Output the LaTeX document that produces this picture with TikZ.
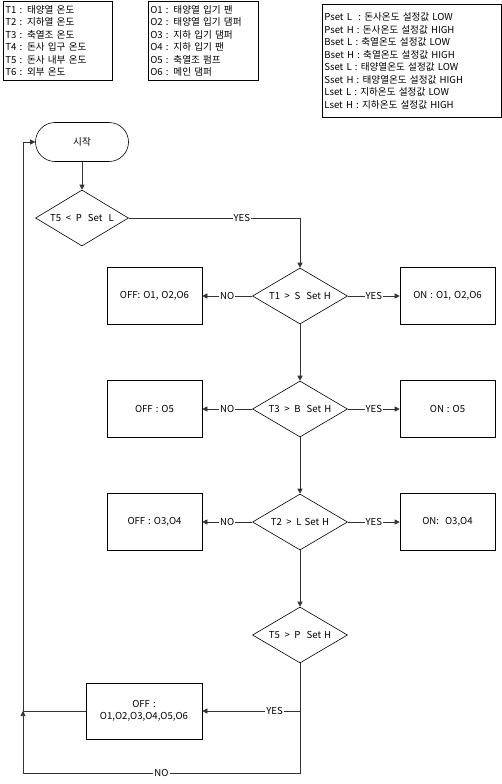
\documentclass[tikz,border=0pt]{standalone}
\usepackage{fontspec}
\setmainfont[WordSpace=1.4]{Noto Sans CJK KR}
\usetikzlibrary{shapes.geometric,arrows.meta}

\begin{document}
\begin{tikzpicture}
[x=1pt,y=-1pt,%
  every node/.style={font=\fontsize{9.6}{12.5}\selectfont},%
  line/.style={draw=black!80,semithick},%
  arr/.style={line,-{Triangle[length=5pt,width=5pt]}},%
  legend/.style={draw,semithick,anchor=north west,align=left,inner xsep=2pt,inner ysep=0pt},%
  terminal/.style={draw,semithick,rectangle,rounded corners=19.5pt,minimum width=93pt,minimum height=39pt},%
  decision/.style={draw,semithick,diamond,aspect=1.7,inner sep=0pt,minimum width=95pt,minimum height=56pt},%
  action/.style={draw,semithick,rectangle,minimum width=95pt,minimum height=57pt,align=center},%
  lbl/.style={fill=white,inner sep=1pt}]
\useasboundingbox (0,0) rectangle (502,784);

% legends
\node[legend,text width=105pt,minimum height=79pt] (tlist) at (3,1)
  {T1 : 태양열 온도\\T2 : 지하열 온도\\T3 : 축열조 온도\\T4 : 돈사 입구 온도\\T5 : 돈사 내부 온도\\T6 : 외부 온도};
\node[legend,text width=106pt,minimum height=79pt] (olist) at (148,1)
  {O1 : 태양열 입기 팬\\O2 : 태양열 입기 댐퍼\\O3 : 지하 입기 댐퍼\\O4 : 지하 입기 팬\\O5 : 축열조 펌프\\O6 : 메인 댐퍼};
\node[legend,text width=175pt,minimum height=113pt] (slist) at (322,4)
  {Pset L \ : 돈사온도 설정값 LOW\\Pset H : 돈사온도 설정값 HIGH\\Bset L : 축열온도 설정값 LOW\\Bset H : 축열온도 설정값 HIGH\\Sset L : 태양열온도 설정값 LOW\\Sset H : 태양열온도 설정값 HIGH\\Lset L : 지하온도 설정값 LOW\\Lset H : 지하온도 설정값 HIGH};

% flow
\node[terminal] (start) at (82,142) {시작};
\node[decision,minimum width=93pt] (d1) at (82,218) {T5 \,<\, P \ Set \ L};
\node[decision] (d2) at (300,296) {T1 \,>\, S \ Set H};
\node[decision] (d3) at (300,409) {T3 \,>\, B \ Set H};
\node[decision] (d4) at (300,522) {T2 \,>\, L Set H};
\node[decision] (d5) at (300,635) {T5 \,>\, P \ Set H};

\node[action] (off1) at (154.5,296) {OFF: O1, O2,O6};
\node[action] (on1) at (447.5,296) {ON : O1, O2,O6};
\node[action] (off2) at (154.5,409) {OFF : O5};
\node[action] (on2) at (447.5,409) {ON : O5};
\node[action] (off3) at (154.5,522) {OFF : O3,O4};
\node[action] (on3) at (447.5,522) {ON: \ O3,O4};
\node[action,minimum width=116pt,minimum height=56pt] (offall) at (144,711) {OFF :\\O1,O2,O3,O4,O5,O6};

\coordinate (bot) at (23,773);
\coordinate (loop) at (23,711);

\draw[arr] (start) -- (d1);
\draw[arr] (d1.east) -| node[lbl,pos=0.33] {YES} (d2.north);
\draw[arr] (d2) -- node[lbl] {NO} (off1);
\draw[arr] (d2) -- node[lbl] {YES} (on1);
\draw[arr] (d2) -- (d3);
\draw[arr] (d3) -- node[lbl] {NO} (off2);
\draw[arr] (d3) -- node[lbl] {YES} (on2);
\draw[arr] (d3) -- (d4);
\draw[arr] (d4) -- node[lbl] {NO} (off3);
\draw[arr] (d4) -- node[lbl] {YES} (on3);
\draw[arr] (d4) -- (d5);
\draw[arr] (d5.south) |- node[lbl,pos=0.63] {YES} (offall.east);
\draw[arr] (d5.south) |- node[lbl,pos=0.75] {NO} (bot) -- (loop);
\draw[line] (offall.west) -- (loop);
\draw[arr] (loop) |- (start.west);
\end{tikzpicture}
\end{document}
